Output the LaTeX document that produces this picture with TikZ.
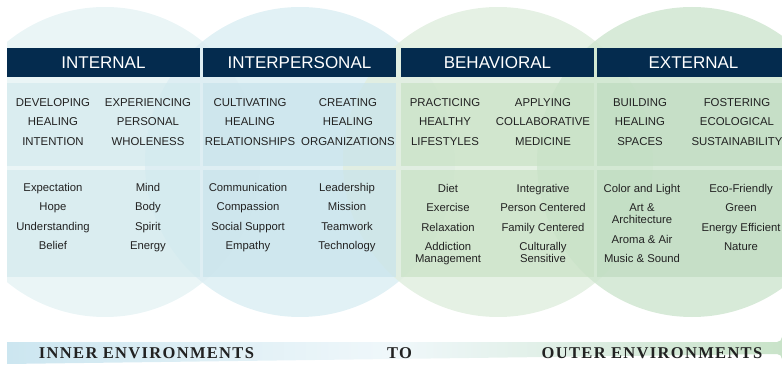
\documentclass[tikz,border=0pt]{standalone}
\usepackage{fontspec}
\setmainfont{Liberation Sans}
\newfontfamily\barfont[LetterSpace=8]{Liberation Serif}
\usetikzlibrary{positioning}

\definecolor{navy}{HTML}{042B4E}
\definecolor{circA}{HTML}{E6F3F5}
\definecolor{circB}{HTML}{DCEEF3}
\definecolor{circC}{HTML}{E1EEDF}
\definecolor{circD}{HTML}{D0E6D1}
\definecolor{panA}{HTML}{D3EAEE}
\definecolor{panB}{HTML}{C8E4EB}
\definecolor{panC}{HTML}{C9E2C6}
\definecolor{panD}{HTML}{BFDCC1}
\definecolor{barL}{HTML}{CCE6F0}
\definecolor{barR}{HTML}{C9E3C9}
\definecolor{ink}{HTML}{222222}

\tikzstyle{ring}=[fill opacity=0.85]
\tikzstyle{panel}=[fill opacity=0.7]
\tikzstyle{header}=[fill=navy,text=white,minimum width=193pt,minimum height=29pt,inner sep=0pt,font=\fontsize{17}{20}\selectfont]
\tikzstyle{topic}=[text=ink,align=center,inner sep=0pt,font=\fontsize{11.4}{19.5}\selectfont]
\tikzstyle{item}=[text=ink,align=center,inner sep=0pt,anchor=north,font=\fontsize{11.3}{19.5}\selectfont]
\tikzstyle{envlabel}=[text=ink,inner sep=0pt,font=\barfont\bfseries\fontsize{16.5}{18}\selectfont]

\begin{document}
\begin{tikzpicture}[x=1pt,y=-1pt]
  \useasboundingbox (0,0) rectangle (782,374);
  \begin{scope}
    \clip (7,0) rectangle (782,374);
    \foreach \cx/\col in {105/circA,300/circB,498/circC,692/circD}
      \fill[ring,fill=\col] (\cx,162) circle [radius=155pt];
    \foreach \x/\col in {7/panA,203/panB,401/panC,597/panD} {
      \fill[panel,fill=\col] (\x,83) rectangle ++(193,83);
      \fill[panel,fill=\col] (\x,170) rectangle ++(193,107);
    }
    \foreach \cx/\lab/\nm in {103.5/INTERNAL/int,299.5/INTERPERSONAL/inter,497.5/BEHAVIORAL/beh,693.5/EXTERNAL/ext}
      \node[header] (h-\nm) at (\cx,62.5) {\lab};
  \end{scope}

  % upper row
  \node[topic] (tDev) at (53,122) {DEVELOPING\\HEALING\\INTENTION};
  \node[topic] (tExp) at (148,122) {EXPERIENCING\\PERSONAL\\WHOLENESS};
  \node[topic] (tCul) at (250,122) {CULTIVATING\\HEALING\\RELATIONSHIPS};
  \node[topic] (tCre) at (348,122) {CREATING\\HEALING\\ORGANIZATIONS};
  \node[topic] (tPra) at (445,122) {PRACTICING\\HEALTHY\\LIFESTYLES};
  \node[topic] (tApp) at (543,122) {APPLYING\\COLLABORATIVE\\MEDICINE};
  \node[topic] (tBui) at (640,122) {BUILDING\\HEALING\\SPACES};
  \node[topic] (tFos) at (737,122) {FOSTERING\\ECOLOGICAL\\SUSTAINABILITY};

  % lower row
  \node[item] (iDev) at (53,183) {Expectation\\Hope\\Understanding\\Belief};
  \node[item] (iExp) at (148,183) {Mind\\Body\\Spirit\\Energy};
  \node[item] (iCul) at (248,183) {Communication\\Compassion\\Social Support\\Empathy};
  \node[item] (iCre) at (347,183) {Leadership\\Mission\\Teamwork\\Technology};
  \node[item] (iPra) at (448,184) {Diet\\Exercise\\Relaxation\\Addiction\\[-7.5pt]Management};
  \node[item] (iApp) at (543,184) {Integrative\\Person Centered\\Family Centered\\Culturally\\[-7.5pt]Sensitive};
  \node[item] (iBui) at (642,184) {Color and Light\\Art \&\\[-7.5pt]Architecture\\Aroma \& Air\\Music \& Sound};
  \node[item] (iFos) at (741,184) {Eco-Friendly\\Green\\Energy Efficient\\Nature};

  % bottom bar
  \shade[left color=barL,right color=barR,middle color=barL!30!white]
    (7,342) -- (777,342) arc[start angle=-90,end angle=0,radius=5pt]
    -- (782,359) arc[start angle=0,end angle=90,radius=5pt] -- (7,364) -- cycle;
  \node[envlabel] (inner) at (146.5,353) {INNER ENVIRONMENTS};
  \node[envlabel] (to) at (399.5,353) {TO};
  \node[envlabel] (outer) at (652,353) {OUTER ENVIRONMENTS};
\end{tikzpicture}
\end{document}
